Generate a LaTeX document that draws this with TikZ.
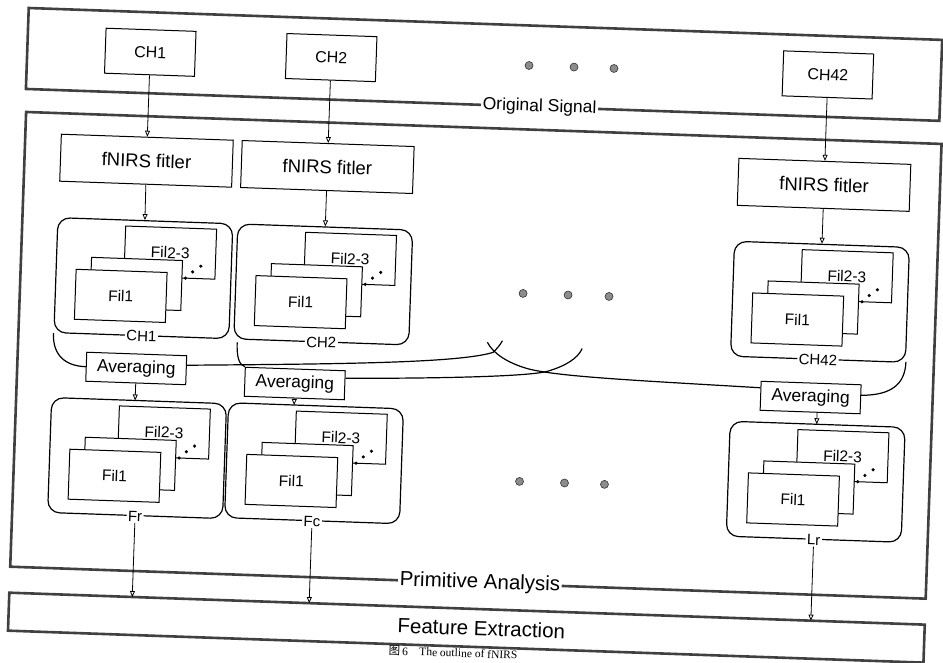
\documentclass[tikz,border=0pt]{standalone}
\usepackage{fontspec}
\setmainfont{Liberation Sans}
\newfontfamily\capfont{Liberation Serif}
\newfontfamily\cjkfont{Noto Sans CJK SC}
\usetikzlibrary{arrows.meta,positioning}

\begin{document}
\begin{tikzpicture}[
    x=1pt, y=-1pt,
    frame/.style={draw=black!75, line width=2.6pt},
    chbox/.style={draw, line width=1pt, minimum width=90pt, minimum height=45pt, font=\fontsize{16}{18}\selectfont},
    filtbox/.style={draw, line width=1pt, minimum width=172pt, minimum height=47pt, font=\fontsize{18.5}{20}\selectfont},
    grpbox/.style={draw, rounded corners=12pt, line width=1.2pt, minimum width=175pt, minimum height=115pt},
    card/.style={draw, fill=white, line width=1pt, minimum width=91pt, minimum height=50pt, font=\fontsize{15.5}{17}\selectfont},
    avgbox/.style={draw, fill=white, line width=1pt, minimum width=100pt, minimum height=29pt, inner sep=0pt, font=\fontsize{17.5}{20}\selectfont},
    tag/.style={fill=white, inner sep=1.5pt, font=\fontsize{15}{17}\selectfont},
    arrow/.style={-{Triangle[open, length=6pt, width=5pt]}, line width=0.8pt},
    brace/.style={line width=1.2pt},
    dot/.style={circle, draw=black!80, fill=black!45, line width=0.6pt, minimum size=8pt, inner sep=0pt},
    pip/.style={circle, fill=black, minimum size=3.5pt, inner sep=0pt}
]
\clip (0,0) rectangle (943,663);
\fill[white] (0,0) rectangle (943,663);

\begin{scope}[rotate=-2, transform shape]

% 三个外框
\node[frame, minimum width=914pt, minimum height=81pt] (orig) at (486,47.5) {};
\node[frame, minimum width=916pt, minimum height=455pt] (prim) at (488,338.5) {};
\node[frame, minimum width=916pt, minimum height=38pt] (feat) at (488,611) {};
\node[tag, font=\fontsize{17.5}{20}\selectfont] (origlbl) at (543,88) {Original Signal};
\node[tag, font=\fontsize{20.5}{22}\selectfont] (primlbl) at (500,566) {Primitive Analysis};
\node[font=\fontsize{20.5}{22}\selectfont] (featlbl) at (503,611) {Feature Extraction};

% 原始通道
\node[chbox] (ch1) at (152,47) {CH1};
\node[chbox] (ch2) at (333,46) {CH2};
\node[chbox] (ch42) at (830,46) {CH42};

% 滤波
\node[filtbox] (filt1) at (152,155.5) {fNIRS fitler};
\node[filtbox] (filt2) at (333,155.5) {fNIRS fitler};
\node[filtbox] (filt42) at (830,156) {fNIRS fitler};

% 分组框
\node[grpbox] (grp1) at (153,273) {};
\node[grpbox] (grp2) at (333,273) {};
\node[grpbox] (grp42) at (830,273) {};
\node[grpbox] (grpfr) at (153,453) {};
\node[grpbox] (grpfc) at (330,452) {};
\node[grpbox] (grplr) at (832,453) {};

% 叠放的卡片
\foreach \g in {grp1,grp2,grp42,grpfr,grpfc,grplr} {
    \node[card] (\g-back) at ([xshift=26pt, yshift=26.5pt]\g.center) {Fil2-3};
    \node[card] (\g-mid) at ([xshift=-7pt, yshift=-6pt]\g.center) {};
    \node[card] (\g-front) at ([xshift=-22pt, yshift=-18.5pt]\g.center) {Fil1};
    \node[pip] (\g-p1) at ([xshift=42pt, yshift=1.5pt]\g.center) {};
    \node[pip] (\g-p2) at ([xshift=49pt, yshift=8pt]\g.center) {};
    \node[pip] (\g-p3) at ([xshift=57pt, yshift=14pt]\g.center) {};
}

\node[tag] (lbl1) at (grp1.south) {CH1};
\node[tag] (lbl2) at (grp2.south) {CH2};
\node[tag] (lbl42) at (grp42.south) {CH42};
\node[tag] (lblfr) at (grpfr.south) {Fr};
\node[tag] (lblfc) at (grpfc.south) {Fc};
\node[tag] (lbllr) at (grplr.south) {Lr};

% 省略号
\foreach \x [count=\i] in {531,576,616} \node[dot] (tdot\i) at (\x,47) {};
\foreach \x [count=\i] in {533,578,619} \node[dot] (mdot\i) at (\x,275) {};
\foreach \x [count=\i] in {536,581,621} \node[dot] (ldot\i) at (\x,463) {};

% 平均
\node[avgbox] (avg1) at (149,363.5) {Averaging};
\node[avgbox] (avg2) at (308,373) {Averaging};
\node[avgbox] (avg42) at (824,369) {Averaging};

% 括线
\coordinate (b1a) at (65,331);
\coordinate (b1b) at (514,323);
\coordinate (b2a) at (249,334);
\coordinate (b2b) at (594,328);
\coordinate (b3a) at (918,330);
\coordinate (b3b) at (499,325);
\draw[brace] (b1a) .. controls (65,355) and (80,363.5) .. (avg1.west);
\draw[brace] ([yshift=5pt]avg1.east) .. controls (350,352) and (470,347) .. (505,335) .. controls (509,331) and (512,327) .. (b1b);
\draw[brace] (b2a) .. controls (249,350) and (252,356) .. (avg2.north west);
\draw[brace] ([yshift=7pt]avg2.east) .. controls (450,363) and (540,358) .. (560,352) .. controls (578,346) and (590,338) .. (b2b);
\draw[brace] (b3a) .. controls (918,352) and (905,364) .. ([yshift=4pt]avg42.east);
\draw[brace] ([yshift=8pt]avg42.west) .. controls (650,358) and (570,357) .. (540,350) .. controls (520,345) and (505,336) .. (b3b);

% 箭头
\coordinate (fr-in) at (149,395.5);
\coordinate (fc-in) at (308,394.5);
\coordinate (lr-in) at (831,395.5);
\coordinate (fe1) at (153,592);
\coordinate (fe2) at (330,592);
\coordinate (fe3) at (832,592);
\draw[arrow] (ch1) -- (filt1);
\draw[arrow] (ch2) -- (filt2);
\draw[arrow] (ch42) -- (filt42);
\draw[arrow] (filt1) -- (grp1);
\draw[arrow] (filt2) -- (grp2);
\draw[arrow] (filt42) -- (grp42);
\draw[arrow] (avg1) -- (fr-in);
\draw[arrow] (avg2) -- (fc-in);
\draw[arrow] ([xshift=7pt]avg42.south) -- (lr-in);
\draw[arrow] (lblfr) -- (fe1);
\draw[arrow] (lblfc) -- (fe2);
\draw[arrow] (lbllr) -- (fe3);

% 图题
\node[anchor=west, inner sep=0pt, font=\fontsize{11.5}{13}\selectfont\capfont] (cap) at (411,636.5) {{\cjkfont 图}\,6\quad The outline of fNIRS};

\end{scope}
\end{tikzpicture}
\end{document}
